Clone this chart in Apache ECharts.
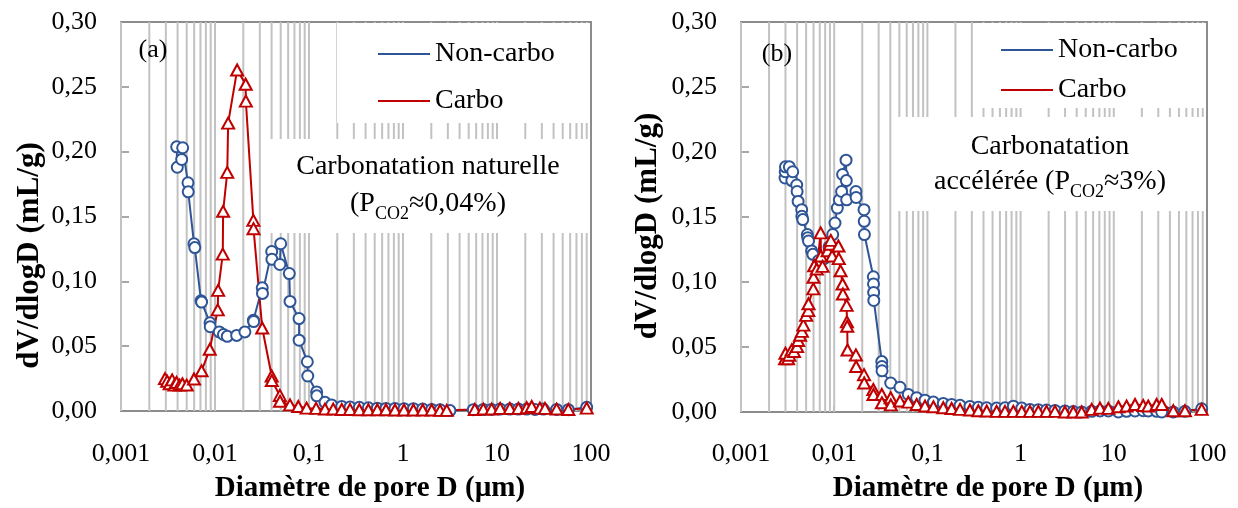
<!DOCTYPE html>
<html><head><meta charset="utf-8">
<script src="https://cdn.jsdelivr.net/npm/echarts/dist/echarts.min.js"></script>
<style>html,body{margin:0;padding:0;background:#fff}#c{width:1238px;height:508px}</style>
</head><body><div id="c"></div><script>
const xTickLabels = ['0,001','0,01','0,1','1','10','100'];
const yTickLabels = ['0,00','0,05','0,10','0,15','0,20','0,25','0,30'];
const gridMultipliers = [1,2,3,4,5,6,7,8,9];
const gridDecades = [0.001,0.01,0.1,1,10];

// Panel (a) - Carbonatation naturelle
const aNonCarboD = [0.00391,0.00397,0.00442,0.00453,0.00516,0.00519,0.00598,0.0061,0.0071,0.0072,0.00885,0.0089,0.0111,0.0123,0.0135,0.017,0.0208,0.0256,0.0258,0.0318,0.032,0.0401,0.0403,0.049,0.05,0.0617,0.0628,0.0783,0.0785,0.096,0.097,0.1206,0.121,0.148,0.174,0.223,0.273,0.343,0.428,0.533,0.659,0.822,1.025,1.29,1.62,2.02,2.48,3.16,5.6,7.15,8.77,10.8,13.7,16.9,20.7,25.4,31.1,43.1,57.4,90];
const aNonCarboV = [0.2037,0.188,0.194,0.203,0.176,0.169,0.129,0.126,0.085,0.084,0.068,0.065,0.061,0.059,0.0576,0.0583,0.061,0.070,0.069,0.095,0.0907,0.123,0.117,0.113,0.129,0.106,0.0845,0.0713,0.0546,0.038,0.027,0.0147,0.0117,0.0067,0.0047,0.0035,0.003,0.0028,0.0025,0.0022,0.002,0.002,0.0018,0.0018,0.0015,0.0012,0.001,0.0003,0.001,0.0012,0.0012,0.0015,0.0015,0.0015,0.0015,0.0012,0.0015,0.0012,0.001,0.0028];
const aCarboD = [0.00294,0.0031,0.0033,0.0035,0.0037,0.0039,0.0042,0.0045,0.005,0.00598,0.0072,0.0088,0.0107,0.0108,0.0121,0.0122,0.0135,0.0138,0.0172,0.0212,0.0213,0.0256,0.0257,0.0318,0.0401,0.0402,0.049,0.0492,0.0628,0.0769,0.0944,0.119,0.148,0.181,0.223,0.273,0.343,0.428,0.533,0.659,0.822,1.025,1.29,1.62,2.02,2.48,2.92,5.8,7.15,8.77,10.8,13.7,16.9,20.7,23.4,28.6,32.4,43.1,57.4,90];
const aCarboV = [0.025,0.023,0.021,0.024,0.020,0.022,0.020,0.021,0.020,0.0247,0.031,0.0476,0.078,0.093,0.121,0.154,0.184,0.222,0.263,0.252,0.239,0.147,0.1406,0.064,0.027,0.0235,0.012,0.0075,0.0047,0.0035,0.0022,0.002,0.0015,0.0015,0.0012,0.0012,0.001,0.001,0.001,0.001,0.0008,0.0008,0.0008,0.0008,0.0008,0.0005,0.0005,0.0012,0.0015,0.0015,0.002,0.002,0.002,0.0025,0.0035,0.0022,0.002,0.0015,0.0012,0.0022];

// Panel (b) - Carbonatation accélérée
const bNonCarboD = [0.00297,0.00298,0.003,0.0033,0.00351,0.00359,0.00396,0.004,0.0041,0.00448,0.0045,0.0046,0.00515,0.0052,0.0053,0.00573,0.0059,0.00675,0.0078,0.0088,0.00964,0.0102,0.0108,0.01135,0.012,0.0123,0.0134,0.0135,0.0136,0.0171,0.0172,0.0209,0.021,0.0211,0.0263,0.0264,0.0265,0.0266,0.0324,0.0325,0.0326,0.0404,0.0508,0.0624,0.0767,0.0942,0.116,0.148,0.182,0.224,0.286,0.352,0.433,0.553,0.68,0.836,1.03,1.26,1.55,1.9,2.34,2.99,3.68,4.52,5.79,7.11,8.74,11.2,13.7,16.9,20.7,23.4,28.8,32.7,43.5,58,87.7];
const bNonCarboV = [0.180,0.1848,0.1886,0.1886,0.178,0.1848,0.1746,0.1696,0.162,0.1556,0.1505,0.148,0.1365,0.134,0.1315,0.1239,0.1213,0.1163,0.118,0.127,0.1365,0.1454,0.1569,0.1632,0.1696,0.1827,0.1937,0.178,0.1632,0.1696,0.165,0.1556,0.1467,0.1365,0.104,0.0985,0.092,0.0858,0.0388,0.035,0.0317,0.0223,0.019,0.0135,0.011,0.0091,0.0076,0.0066,0.0058,0.0051,0.0043,0.0036,0.0032,0.003,0.0032,0.0045,0.003,0.002,0.0018,0.0015,0.0012,0.0008,0.0003,0.0,0.0005,0.0008,0.0008,0.0,0.0005,0.0008,0.001,0.0008,0.0005,0.0,0.0,0.0005,0.0025];
const bCarboD = [0.00297,0.003,0.0032,0.0033,0.0035,0.0037,0.004,0.0041,0.0043,0.0045,0.00467,0.005,0.00527,0.0053,0.00597,0.006,0.0061,0.0065,0.00716,0.0072,0.0075,0.0085,0.009,0.0092,0.0095,0.0111,0.0112,0.0117,0.0123,0.0124,0.0136,0.0137,0.0138,0.0139,0.0171,0.0172,0.0209,0.021,0.0263,0.0264,0.0324,0.0325,0.0404,0.0405,0.0508,0.0624,0.0767,0.0942,0.116,0.148,0.182,0.224,0.286,0.352,0.433,0.553,0.68,0.836,1.03,1.26,1.55,1.9,2.34,2.99,3.68,4.52,5.79,7.11,8.74,11.2,13.7,16.9,20.7,23.4,28.8,32.7,43.5,58,87.7];
const bCarboV = [0.041,0.0452,0.041,0.0437,0.0478,0.0465,0.0503,0.055,0.059,0.062,0.0668,0.0743,0.078,0.0833,0.0947,0.1036,0.1125,0.11,0.1378,0.12,0.112,0.124,0.129,0.132,0.12,0.1277,0.118,0.1086,0.0985,0.0908,0.082,0.0693,0.066,0.0477,0.0439,0.035,0.0287,0.0223,0.0173,0.0135,0.0135,0.0071,0.011,0.0055,0.0084,0.0076,0.0058,0.0046,0.004,0.0033,0.0027,0.002,0.0015,0.001,0.0008,0.0005,0.0005,0.0005,0.0005,0.0005,0.0005,0.0005,0.0005,0.0,0.0,0.0,0.002,0.003,0.0028,0.004,0.0046,0.0058,0.005,0.0046,0.0058,0.0058,0.001,0.001,0.002];

const BLUE = '#2F5597', RED = '#C00000', FRAME = '#8c8c8c', GRIDC = '#c2c2c2';
const FONT = 'Liberation Serif';
const zip = (d, v) => d.map((x, i) => [x, v[i]]);
const gridVals = [];
gridDecades.forEach(dec => gridMultipliers.forEach(m => gridVals.push(+(dec * m).toPrecision(3))));

function xAxisCfg(gi, lblMargin, nameGap) {
  return {
    gridIndex: gi, type: 'log', logBase: 10, min: 0.001, max: 100,
    axisLine: { show: true, lineStyle: { color: FRAME, width: 2 } },
    axisTick: { show: true, inside: true, length: 6, lineStyle: { color: '#7a7a7a', width: 1.5 } },
    splitLine: { show: false },
    axisLabel: { margin: lblMargin, fontFamily: FONT, fontSize: 26, color: '#000',
      formatter: v => xTickLabels[Math.round(Math.log10(v)) + 3] },
    name: 'Diamètre de pore D (µm)', nameLocation: 'middle', nameGap: nameGap,
    nameTextStyle: { fontFamily: FONT, fontSize: 29, fontWeight: 'bold', color: '#000', padding: [0, 0, 0, 28] }
  };
}
function yAxisCfg(gi, nameGap, padR) {
  return {
    gridIndex: gi, type: 'value', min: 0, max: 0.3, interval: 0.05,
    axisLine: { show: true, lineStyle: { color: FRAME, width: 2 } },
    axisTick: { show: true, inside: true, length: 8, lineStyle: { color: FRAME, width: 1.5 } },
    splitLine: { show: false },
    axisLabel: { margin: 24, fontFamily: FONT, fontSize: 26, color: '#000',
      formatter: v => yTickLabels[Math.round(v / 0.05)] },
    name: 'dV/dlogD (mL/g)', nameLocation: 'middle', nameGap: nameGap,
    nameTextStyle: { fontFamily: FONT, fontSize: 31, fontWeight: 'bold', color: '#000', padding: [0, padR, 0, 0] }
  };
}
// vertical log-paper grid lines, placed through the axis scale
function gridSeries(gi) {
  return {
    type: 'custom', xAxisIndex: gi, yAxisIndex: gi, z: 1, silent: true, clip: false,
    data: gridVals.map(v => [v, 0]),
    encode: { x: 0, y: 1 },
    renderItem: (params, api) => {
      const x = api.value(0);
      const p0 = api.coord([x, 0]);
      const p1 = api.coord([x, 0.3]);
      return { type: 'line', silent: true,
        shape: { x1: p0[0], y1: p0[1], x2: p1[0], y2: p1[1] },
        style: { stroke: GRIDC, lineWidth: 2 } };
    }
  };
}
function dataSeries(gi, name, d, v, color, symbol, size) {
  return {
    type: 'line', name: name, xAxisIndex: gi, yAxisIndex: gi, z: 3,
    data: zip(d, v), showSymbol: true, showAllSymbol: true,
    symbol: symbol, symbolSize: size,
    lineStyle: { color: color, width: 2 },
    itemStyle: { color: '#fff', borderColor: color, borderWidth: 2 }
  };
}
// legend keys: plain line samples (marker hidden), as in the original legend
function legendCfg(left, top, gap) {
  return {
    left: left, top: top, orient: 'vertical', itemGap: gap, itemWidth: 52, itemHeight: 14,
    selectedMode: false, padding: 0, z: 6,
    itemStyle: { color: 'rgba(0,0,0,0)', borderWidth: 0, borderColor: 'rgba(0,0,0,0)' },
    lineStyle: { width: 2 },
    textStyle: { fontFamily: FONT, fontSize: 28, color: '#000' },
    data: ['Non-carbo', 'Carbo']
  };
}
const txt = (x, y, text, size, extra) => ({ type: 'text', z: 10, style: Object.assign({
  x: x, y: y, text: text, fill: '#000', font: size + 'px "' + FONT + '"',
  align: 'center', verticalAlign: 'middle' }, extra || {}) });
const rich = {
  a: { fontFamily: FONT, fontSize: 28, color: '#000', lineHeight: 38 },
  s: { fontFamily: FONT, fontSize: 18, color: '#000', verticalAlign: 'bottom', lineHeight: 20 }
};
const box = (x, y, w, h) => ({ type: 'rect', z: 2, shape: { x: x, y: y, width: w, height: h }, style: { fill: '#fff' } });

const chart = echarts.init(document.getElementById('c'), null, { renderer: 'canvas' });
chart.setOption({
  animation: false,
  backgroundColor: '#fff',
  grid: [
    { left: 121, top: 22, width: 470, height: 401, show: true, borderColor: FRAME, borderWidth: 2 },
    { left: 741, top: 22, width: 466, height: 394, show: true, borderColor: FRAME, borderWidth: 2 }
  ],
  xAxis: [xAxisCfg(0, 30, 63), xAxisCfg(1, 29, 62)],
  yAxis: [yAxisCfg(0, 76, 78), yAxisCfg(1, 78, 18)],
  legend: [legendCfg(377, 40, 19), legendCfg(1000, 36, 12)],
  graphic: [
    box(337, 23, 253, 100), box(270, 139, 320, 94),
    box(977, 23, 229, 85), box(898, 117, 308, 94),
    txt(153, 50, '(a)', 26),
    txt(777, 54, '(b)', 26),
    txt(428, 167, 'Carbonatation naturelle', 28),
    txt(428, 204, '{a|(P}{s|CO2}{a|≈0,04%)}', 28, { rich: rich }),
    txt(1050, 147, 'Carbonatation', 28),
    txt(1050, 182, '{a|accélérée (P}{s|CO2}{a|≈3%)}', 28, { rich: rich })
  ],
  series: [
    gridSeries(0), gridSeries(1),
    dataSeries(0, 'Non-carbo', aNonCarboD, aNonCarboV, BLUE, 'circle', 11),
    dataSeries(0, 'Carbo', aCarboD, aCarboV, RED, 'triangle', [12, 11]),
    dataSeries(1, 'Non-carbo', bNonCarboD, bNonCarboV, BLUE, 'circle', 11),
    dataSeries(1, 'Carbo', bCarboD, bCarboV, RED, 'triangle', [12, 11])
  ]
});
</script></body></html>
